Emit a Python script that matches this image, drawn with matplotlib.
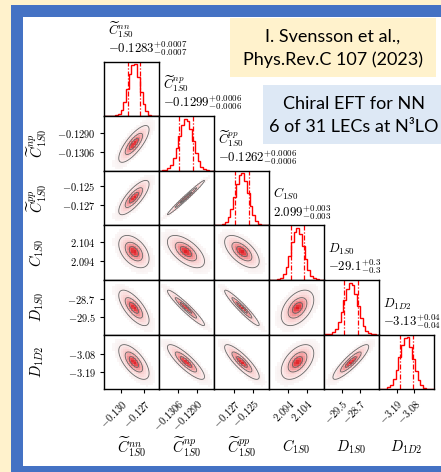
import numpy as np
import matplotlib
matplotlib.use("Agg")
import matplotlib.pyplot as plt
from matplotlib.colors import LinearSegmentedColormap
from matplotlib.patches import Rectangle

plt.rcParams['mathtext.fontset'] = 'cm'

# parameter names and summary values (as printed in the titles)
names = [r'\widetilde{C}^{nn}_{1S0}', r'\widetilde{C}^{np}_{1S0}', r'\widetilde{C}^{pp}_{1S0}',
         r'C_{1S0}', r'D_{1S0}', r'D_{1D2}']
value_txt = ['-0.1283', '-0.1299', '-0.1262', '2.099', '-29.1', '-3.13']
error_txt = ['0.0007', '0.0006', '0.0006', '0.003', '0.3', '0.04']

means = [-0.1283, -0.1299, -0.1262, 2.099, -29.1, -3.13]
sigmas = [0.00075, 0.0006, 0.0007, 0.0034, 0.30, 0.042]

# axis ranges of each parameter
lims = [(-0.13215, -0.12507), (-0.13217, -0.12754), (-0.12914, -0.12335),
        (2.0835, 2.1134), (-30.27, -27.87), (-3.3006, -2.957)]

tick_vals = [[-0.130, -0.127], [-0.1306, -0.1290], [-0.127, -0.125],
             [2.094, 2.104], [-29.5, -28.7], [-3.19, -3.08]]
tick_txt = [['-0.130', '-0.127'], ['-0.1306', '-0.1290'], ['-0.127', '-0.125'],
            ['2.094', '2.104'], ['-29.5', '-28.7'], ['-3.19', '-3.08']]

# pairwise correlations read from the ellipses
corr = [[1.00, 0.78, 0.78, -0.45, -0.70, -0.65],
        [0.78, 1.00, 0.985, -0.60, -0.95, -0.85],
        [0.78, 0.985, 1.00, -0.60, -0.95, -0.85],
        [-0.45, -0.60, -0.60, 1.00, 0.45, 0.50],
        [-0.70, -0.95, -0.95, 0.45, 1.00, 0.88],
        [-0.65, -0.85, -0.85, 0.50, 0.88, 1.00]]

# 1D histogram counts (20 bins over each axis range)
hist_nn = [0, 0, 0, 3, 12, 41, 115, 280, 530, 815, 985, 1000, 745, 460, 235, 92, 30, 8, 2, 0]
hist_np = [1, 5, 17, 47, 115, 240, 430, 670, 880, 1000, 960, 800, 570, 350, 180, 80, 31, 10, 3, 1]
hist_pp = [0, 2, 6, 21, 62, 150, 310, 540, 790, 960, 1000, 860, 620, 380, 190, 83, 30, 9, 2, 0]
hist_c1s0 = [0, 1, 3, 11, 39, 106, 240, 460, 720, 930, 1000, 890, 650, 400, 200, 83, 28, 8, 2, 0]
hist_d1s0 = [1, 4, 15, 44, 110, 236, 430, 670, 880, 1000, 956, 780, 550, 320, 160, 70, 26, 8, 2, 0]
hist_d1d2 = [1, 3, 10, 31, 83, 190, 370, 610, 840, 990, 1000, 810, 580, 340, 170, 74, 27, 8, 2, 1]
hists = [hist_nn, hist_np, hist_pp, hist_c1s0, hist_d1s0, hist_d1d2]

W, H = 441, 472


def fx(x):
    return x / W


def fy(y):
    return 1 - y / H


fig = plt.figure(figsize=(W / 100, H / 100), dpi=100)
fig.patch.set_facecolor('#FFF2CC')
fig.patches.append(Rectangle((fx(11), 0), 1 - fx(11), fy(5), transform=fig.transFigure,
                             facecolor='#4472C4', edgecolor='none', zorder=-3))
fig.patches.append(Rectangle((fx(23), fy(466)), 1 - fx(23), fy(17) - fy(466),
                             transform=fig.transFigure, facecolor='white', edgecolor='none', zorder=-2))
fig.patches.append(Rectangle((fx(230), fy(77)), fx(436) - fx(230), fy(18) - fy(77),
                             transform=fig.transFigure, facecolor='#FFF2CC', edgecolor='none', zorder=-1))
fig.patches.append(Rectangle((fx(263), fy(144)), 1 - fx(263), fy(85) - fy(144),
                             transform=fig.transFigure, facecolor='#DDE8F5', edgecolor='none', zorder=-1))

box_font = 'Lato'
fig.text(fx(333), fy(37), 'I. Svensson et al.,', ha='center', va='center', fontsize=13, family=box_font)
fig.text(fx(333), fy(60), 'Phys.Rev.C 107 (2023)', ha='center', va='center', fontsize=13, family=box_font)
fig.text(fx(354), fy(104), 'Chiral EFT for NN', ha='center', va='center', fontsize=13, family=box_font)
fig.text(fx(354), fy(127), '6 of 31 LECs at N³LO', ha='center', va='center', fontsize=13, family=box_font)

n = len(names)
left, top = 104, 61.5
pw, ph = 55.0, 54.6

dens_cmap = LinearSegmentedColormap.from_list('dens', [
    (0.0, (0.87, 0.10, 0.12)),
    (0.14, (0.91, 0.30, 0.32)),
    (0.28, (0.95, 0.58, 0.59)),
    (0.45, (0.975, 0.80, 0.80)),
    (0.65, (0.985, 0.90, 0.90)),
    (0.80, (0.975, 0.945, 0.945)),
    (1.0, (0.985, 0.97, 0.97))])
rmax = 3.6

for i in range(n):
    for j in range(i + 1):
        x0 = left + j * pw
        y0 = top + (i + 1) * ph
        ax = fig.add_axes([fx(x0), fy(y0), pw / W, ph / H])
        for sp in ax.spines.values():
            sp.set_linewidth(1.0)
        ax.set_xlim(lims[j])
        ax.tick_params(direction='out', length=3, width=0.8, pad=3, labelsize=7.5)
        if i == j:
            edges = np.linspace(lims[j][0], lims[j][1], len(hists[j]) + 1)
            ax.stairs(hists[j], edges, color='red', lw=1.0)
            ax.set_ylim(0, 1.05 * max(hists[j]))
            for q in (means[j] - sigmas[j], means[j] + sigmas[j]):
                ax.axvline(q, color='red', lw=0.9, ls=(0, (4, 1.5, 1, 1.5)))
            ax.set_yticks([])
            ax.annotate('$' + names[j] + '$', xy=(0, 1), xycoords='axes fraction',
                        xytext=(3, 19.5), textcoords='offset points', ha='left', va='baseline',
                        fontsize=9.2)
            ax.annotate('$' + value_txt[j] + '^{+' + error_txt[j] + '}_{-' + error_txt[j] + '}$',
                        xy=(0, 1), xycoords='axes fraction', xytext=(3, 6.5),
                        textcoords='offset points', ha='left', va='baseline', fontsize=9.2)
        else:
            ax.set_ylim(lims[i])
            mx, my = means[j], means[i]
            sx, sy = sigmas[j], sigmas[i]
            rho = corr[i][j]
            # coarse density image
            xe = np.linspace(lims[j][0], lims[j][1], 27)
            ye = np.linspace(lims[i][0], lims[i][1], 27)
            xc = 0.5 * (xe[1:] + xe[:-1])
            yc = 0.5 * (ye[1:] + ye[:-1])
            X, Y = np.meshgrid(xc, yc)
            dx, dy = (X - mx) / sx, (Y - my) / sy
            r = np.sqrt((dx ** 2 - 2 * rho * dx * dy + dy ** 2) / (1 - rho ** 2))
            ax.pcolormesh(xe, ye, np.ma.masked_where(r > rmax, r), cmap=dens_cmap,
                          vmin=0, vmax=rmax, shading='flat', rasterized=True)
            # contour lines on a fine grid
            xf = np.linspace(lims[j][0], lims[j][1], 200)
            yf = np.linspace(lims[i][0], lims[i][1], 200)
            Xf, Yf = np.meshgrid(xf, yf)
            dx, dy = (Xf - mx) / sx, (Yf - my) / sy
            rf = np.sqrt((dx ** 2 - 2 * rho * dx * dy + dy ** 2) / (1 - rho ** 2))
            ax.contour(Xf, Yf, rf, levels=[0.8, 1.5, 2.6], colors='0.4', linewidths=0.6)
            if j == 0:
                ax.set_yticks(tick_vals[i])
                ax.set_yticklabels(['$' + t + '$' for t in tick_txt[i]])
            else:
                ax.set_yticks([])
        if i == n - 1:
            ax.set_xticks(tick_vals[j])
            ax.set_xticklabels(['$' + t + '$' for t in tick_txt[j]], rotation=45,
                               ha='right', va='top', rotation_mode='anchor')
        else:
            ax.set_xticks([])

for k in range(n):
    fig.text(fx(left + (k + 0.5) * pw), fy(447), '$' + names[k] + '$', ha='center', va='center',
             fontsize=10.5)
    if k > 0:
        fig.text(fx(37), fy(top + (k + 0.5) * ph), '$' + names[k] + '$', ha='center', va='center',
                 rotation=90, fontsize=10.5)

fig.savefig('out.png', dpi=100)
